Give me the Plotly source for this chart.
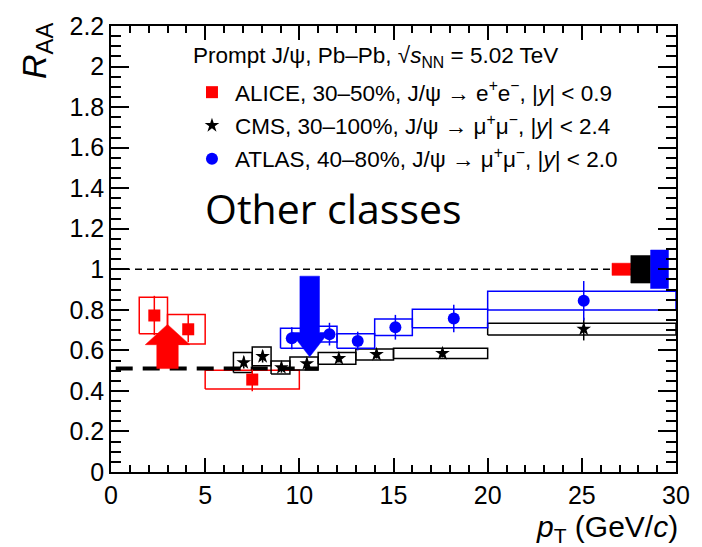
import plotly.graph_objects as go

# ---------------- data ----------------
# ALICE 30-50%, J/psi -> e+e-, |y|<0.9
alice_lo = [1.5, 3.0, 5.0]
alice_hi = [3.0, 5.0, 10.0]
alice_x = [2.3, 4.1, 7.5]
alice_y = [0.772, 0.704, 0.456]
alice_stat_up = [0.097, 0.073, 0.05]
alice_stat_dn = [0.097, 0.064, 0.058]
alice_syst = [0.09, 0.073, 0.046]

# CMS 30-100%, J/psi -> mu+mu-, |y|<2.4
cms_lo = [6.5, 7.5, 8.5, 9.5, 11.0, 13.0, 15.0, 20.0]
cms_hi = [7.5, 8.5, 9.5, 11.0, 13.0, 15.0, 20.0, 30.0]
cms_x = [7.05, 8.05, 9.05, 10.4, 12.1, 14.1, 17.6, 25.1]
cms_y = [0.54, 0.57, 0.515, 0.535, 0.56, 0.58, 0.585, 0.705]
cms_stat = [0.03, 0.03, 0.025, 0.025, 0.02, 0.02, 0.02, 0.056]
cms_syst = [0.049, 0.046, 0.032, 0.032, 0.029, 0.027, 0.025, 0.029]

# ATLAS 40-80%, J/psi -> mu+mu-, |y|<2.0
atlas_lo = [9.0, 10.5, 12.0, 14.0, 16.0, 20.0]
atlas_hi = [10.5, 12.0, 14.0, 16.0, 20.0, 30.0]
atlas_x = [9.6, 11.6, 13.1, 15.1, 18.2, 25.1]
atlas_y = [0.66, 0.68, 0.646, 0.714, 0.757, 0.845]
atlas_stat = [0.054, 0.056, 0.046, 0.061, 0.068, 0.097]
atlas_syst = [0.049, 0.039, 0.036, 0.041, 0.046, 0.046]

# global (normalisation) uncertainties at R_AA = 1
glob_lo = [26.6, 27.6, 28.65]
glob_hi = [27.6, 28.65, 29.6]
glob_unc = [0.03, 0.068, 0.095]
glob_colors = ["#ff0000", "#000000", "#0000ff"]

# annotation arrows: x, start y, tip y
arrow_x = [3.0, 10.55]
arrow_from = [0.51, 0.966]
arrow_to = [0.728, 0.568]
arrow_colors = ["#ff0000", "#0000ff"]

ref_line_x = [0, 30]
ref_line_y = [1, 1]
thick_line_x = [0.25, 11.0]
thick_line_y = [0.51, 0.51]

RED, BLACK, BLUE = "#ff0000", "#000000", "#0000ff"
FONT = "Liberation Sans, Arial, Helvetica, sans-serif"

fig = go.Figure()


def box_trace(lo, hi, y, s, color):
    xs, ys = [], []
    for a, b, v, e in zip(lo, hi, y, s):
        xs += [a, b, b, a, a, None]
        ys += [v - e, v - e, v + e, v + e, v - e, None]
    return go.Scatter(x=xs, y=ys, mode="lines", line=dict(color=color, width=1.5),
                      showlegend=False, hoverinfo="skip")


# reference dashed line at 1
fig.add_trace(go.Scatter(x=ref_line_x, y=ref_line_y, mode="lines",
                         line=dict(color=BLACK, width=1.3, dash="7px,5px"),
                         showlegend=False, hoverinfo="skip"))

# systematic boxes
fig.add_trace(box_trace(alice_lo, alice_hi, alice_y, alice_syst, RED))
fig.add_trace(box_trace(cms_lo, cms_hi, cms_y, cms_syst, BLACK))
fig.add_trace(box_trace(atlas_lo, atlas_hi, atlas_y, atlas_syst, BLUE))

# thick dashed line
fig.add_trace(go.Scatter(x=thick_line_x, y=thick_line_y, mode="lines",
                         line=dict(color=BLACK, width=4, dash="17px,10px"),
                         showlegend=False, hoverinfo="skip"))

# global uncertainty boxes
for a, b, e, c in zip(glob_lo, glob_hi, glob_unc, glob_colors):
    fig.add_trace(go.Scatter(x=[a, b, b, a, a], y=[1 - e, 1 - e, 1 + e, 1 + e, 1 - e],
                             mode="lines", fill="toself", fillcolor=c,
                             line=dict(color=c, width=0.5),
                             showlegend=False, hoverinfo="skip"))

# data points
fig.add_trace(go.Scatter(
    x=alice_x, y=alice_y, mode="markers",
    name="ALICE, 30–50%, J/ψ → e<sup>+</sup>e<sup>−</sup>, |<i>y</i>| &lt; 0.9",
    marker=dict(symbol="square", size=12, color=RED),
    error_y=dict(type="data", array=alice_stat_up, arrayminus=alice_stat_dn,
                 color=RED, thickness=1.5, width=0),
    legendgroup="a", legendrank=1))
fig.add_trace(go.Scatter(
    x=cms_x, y=cms_y, mode="markers",
    name="CMS, 30–100%, J/ψ → μ<sup>+</sup>μ<sup>−</sup>, |<i>y</i>| &lt; 2.4",
    marker=dict(symbol="star", size=11, color=BLACK),
    error_y=dict(type="data", array=cms_stat, color=BLACK, thickness=1.5, width=0),
    legendgroup="b", legendrank=2))
fig.add_trace(go.Scatter(
    x=atlas_x, y=atlas_y, mode="markers",
    name="ATLAS, 40–80%, J/ψ → μ<sup>+</sup>μ<sup>−</sup>, |<i>y</i>| &lt; 2.0",
    marker=dict(symbol="circle", size=12, color=BLUE),
    error_y=dict(type="data", array=atlas_stat, color=BLUE, thickness=1.5, width=0),
    legendgroup="c", legendrank=3))

# arrows
shaft_hw = [0.57, 0.52]
head_hw = [1.18, 1.0]
head_len = [0.10, 0.12]
for xc, y0, y1, c, shw, hhw, hl in zip(arrow_x, arrow_from, arrow_to, arrow_colors,
                                        shaft_hw, head_hw, head_len):
    d = 1 if y1 > y0 else -1
    yb = y1 - d * hl
    fig.add_trace(go.Scatter(
        x=[xc - shw, xc - shw, xc - hhw, xc, xc + hhw, xc + shw, xc + shw, xc - shw],
        y=[y0, yb, yb, y1, yb, yb, y0, y0],
        mode="lines", fill="toself", fillcolor=c, line=dict(color=c, width=0.5),
        showlegend=False, hoverinfo="skip"))

axis_common = dict(
    showgrid=False, zeroline=False, showline=True, linecolor=BLACK, linewidth=1.5,
    mirror="allticks", ticks="inside", tickwidth=1.5, tickcolor=BLACK,
    tickfont=dict(family=FONT, size=25, color=BLACK),
)

fig.update_layout(
    width=702, height=547,
    margin=dict(l=111, r=17, t=18, b=75),
    plot_bgcolor="white", paper_bgcolor="white",
    font=dict(family=FONT, color=BLACK),
    xaxis=dict(range=[0, 30], dtick=5, tick0=0, ticklen=14,
               minor=dict(dtick=1, ticks="inside", ticklen=7, tickwidth=1.5, tickcolor=BLACK),
               **axis_common),
    yaxis=dict(range=[0, 2.2], dtick=0.2, tick0=0, ticklen=18,
               minor=dict(dtick=0.05, ticks="inside", ticklen=10, tickwidth=1.5, tickcolor=BLACK),
               **axis_common),
    legend=dict(
        x=0.138, y=0.899, xanchor="left", yanchor="top",
        bgcolor="rgba(0,0,0,0)", borderwidth=0,
        font=dict(family=FONT, size=22.5, color=BLACK),
        itemwidth=36,
        tracegroupgap=1,
        traceorder="grouped",
    ),
    annotations=[
        dict(text="Prompt J/ψ, Pb–Pb, √<i>s</i><sub>NN</sub> = 5.02 TeV",
             x=0.1416, y=0.9295, xref="paper", yref="paper",
             xanchor="left", yanchor="middle", showarrow=False,
             font=dict(family=FONT, size=22.5, color=BLACK)),
        dict(text="Other classes", x=0.162, y=0.592, xref="paper", yref="paper",
             xanchor="left", yanchor="middle", showarrow=False,
             font=dict(family="Open Sans, sans-serif", size=41, color=BLACK)),
        dict(text="<i>R</i><sub>AA</sub>", x=-0.132, y=0.945, xref="paper", yref="paper",
             xanchor="center", yanchor="middle", textangle=-90, showarrow=False,
             font=dict(family=FONT, size=34, color=BLACK)),
        dict(text="<i>p</i><sub>T</sub> (GeV/<i>c</i>)", x=1.0, y=-0.127, xref="paper", yref="paper",
             xanchor="right", yanchor="middle", showarrow=False, xshift=4,
             font=dict(family=FONT, size=30, color=BLACK)),
    ],
)

fig.write_html("out.html")
